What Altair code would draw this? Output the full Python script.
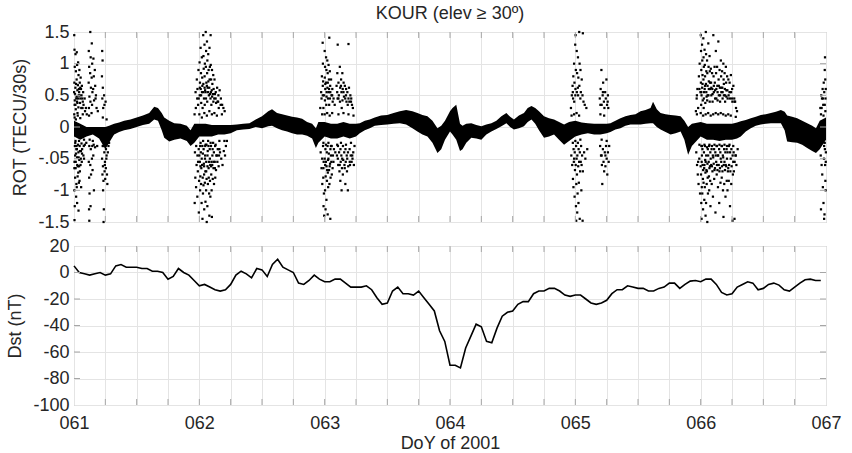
import altair as alt
import pandas as pd

# ---------------- data ----------------
# hourly Dst (nT), starting DoY 061 00:00
dst_values = [5, 0, -1, -2, -1, 0, -2, -1, 5, 6, 4, 4, 4, 3, 3, 1, 1, 0, -5, -3, 3, 0, -2, -6,
              -10, -9, -11, -13, -14, -13, -9, -2, 1, -1, -4, 3, 2, -3, 6, 10, 4, 2, 0, -8, -9, -6, -2, -5,
              -7, -7, -5, -5, -8, -11, -11, -11, -10, -13, -19, -24, -23, -14, -11, -16, -16, -17, -14, -19, -24, -29, -44, -52,
              -70, -70, -72, -57, -48, -39, -41, -52, -53, -42, -33, -30, -29, -24, -22, -22, -16, -14, -14, -12, -12, -14, -17, -18,
              -17, -17, -20, -23, -24, -23, -21, -16, -13, -13, -10, -11, -12, -12, -14, -14, -12, -11, -8, -8, -12, -9, -6.5, -6,
              -7, -5, -5, -9, -15, -17, -16, -11, -9, -7, -8, -13, -12, -9, -8, -9.5, -13, -14, -11, -8, -5.5, -5, -6, -6]

# dense ROT band: (DoY, lower, upper)
rot_band = [(61.00, -0.15, 0.10), (61.05, -0.20, 0.05), (61.10, -0.15, 0.00), (61.15, -0.12, 0.00),
            (61.20, -0.18, 0.00), (61.25, -0.35, 0.00), (61.28, -0.25, 0.02), (61.32, -0.12, 0.05),
            (61.36, -0.08, 0.07), (61.40, -0.05, 0.10), (61.45, -0.03, 0.12), (61.50, 0.00, 0.15),
            (61.55, 0.03, 0.18), (61.60, 0.05, 0.22), (61.64, 0.12, 0.32), (61.67, 0.10, 0.30),
            (61.70, -0.05, 0.22), (61.72, -0.17, 0.15), (61.76, -0.23, 0.10), (61.80, -0.20, 0.06),
            (61.85, -0.18, 0.05), (61.90, -0.22, 0.02), (61.93, -0.30, -0.05), (61.96, -0.25, 0.05),
            (62.00, -0.15, 0.05), (62.05, -0.15, 0.05), (62.10, -0.15, 0.03), (62.15, -0.12, 0.03),
            (62.20, -0.12, 0.03), (62.25, -0.10, 0.03), (62.30, -0.05, 0.04), (62.35, -0.04, 0.05),
            (62.40, -0.03, 0.06), (62.45, 0.00, 0.12), (62.50, -0.02, 0.17), (62.55, 0.01, 0.25),
            (62.58, 0.02, 0.28), (62.62, -0.02, 0.22), (62.66, -0.05, 0.20), (62.70, -0.07, 0.18),
            (62.74, -0.10, 0.16), (62.78, -0.12, 0.15), (62.82, -0.12, 0.13), (62.86, -0.14, 0.08),
            (62.90, -0.18, 0.05), (62.93, -0.33, -0.02), (62.95, -0.25, 0.08), (63.00, -0.15, 0.08),
            (63.05, -0.18, 0.05), (63.10, -0.18, 0.05), (63.15, -0.15, 0.08), (63.20, -0.18, 0.05),
            (63.25, -0.15, 0.05), (63.28, -0.10, 0.06), (63.32, -0.05, 0.10), (63.36, -0.02, 0.12),
            (63.40, 0.02, 0.15), (63.45, 0.03, 0.18), (63.50, 0.04, 0.19), (63.55, 0.05, 0.22),
            (63.60, 0.06, 0.25), (63.65, 0.04, 0.27), (63.70, -0.02, 0.25), (63.74, -0.07, 0.22),
            (63.78, -0.12, 0.19), (63.82, -0.15, 0.17), (63.86, -0.25, 0.10), (63.90, -0.41, -0.02),
            (63.93, -0.35, 0.02), (63.96, -0.20, 0.10), (64.00, -0.07, 0.25), (64.02, -0.12, 0.30),
            (64.05, -0.20, 0.35), (64.08, -0.38, 0.05), (64.10, -0.35, 0.02), (64.13, -0.25, 0.05),
            (64.17, -0.17, 0.06), (64.21, -0.18, 0.03), (64.25, -0.20, 0.01), (64.29, -0.12, 0.04),
            (64.33, -0.07, 0.06), (64.37, -0.03, 0.10), (64.41, 0.01, 0.17), (64.45, 0.06, 0.22),
            (64.48, 0.00, 0.16), (64.51, -0.04, 0.12), (64.55, -0.02, 0.18), (64.59, 0.01, 0.22),
            (64.62, 0.08, 0.30), (64.65, 0.12, 0.33), (64.68, 0.05, 0.30), (64.71, -0.05, 0.25),
            (64.75, -0.17, 0.17), (64.79, -0.15, 0.14), (64.83, -0.12, 0.12), (64.87, -0.20, 0.08),
            (64.91, -0.28, 0.04), (64.95, -0.22, 0.08), (65.00, -0.15, 0.10), (65.05, -0.12, 0.07),
            (65.10, -0.10, 0.06), (65.15, -0.12, 0.05), (65.20, -0.12, 0.05), (65.25, -0.10, 0.05),
            (65.28, -0.08, 0.06), (65.32, -0.04, 0.10), (65.36, -0.02, 0.14), (65.40, 0.02, 0.17),
            (65.44, 0.04, 0.19), (65.48, 0.04, 0.20), (65.52, 0.04, 0.25), (65.56, 0.05, 0.27),
            (65.60, 0.06, 0.30), (65.62, 0.06, 0.40), (65.65, 0.00, 0.28), (65.68, -0.04, 0.22),
            (65.72, -0.08, 0.20), (65.76, -0.12, 0.19), (65.80, -0.10, 0.18), (65.84, -0.07, 0.17),
            (65.87, -0.20, 0.10), (65.90, -0.44, 0.00), (65.93, -0.30, 0.05), (66.00, -0.15, 0.08),
            (66.05, -0.20, 0.05), (66.10, -0.20, 0.05), (66.15, -0.22, 0.05), (66.20, -0.20, 0.05),
            (66.25, -0.20, 0.05), (66.29, -0.18, 0.07), (66.32, -0.15, 0.09), (66.36, -0.07, 0.11),
            (66.40, -0.02, 0.14), (66.44, 0.02, 0.16), (66.48, 0.04, 0.19), (66.52, 0.05, 0.20),
            (66.56, 0.06, 0.22), (66.60, 0.06, 0.24), (66.64, 0.06, 0.27), (66.67, -0.05, 0.24),
            (66.69, -0.23, 0.18), (66.73, -0.24, 0.16), (66.77, -0.25, 0.14), (66.81, -0.28, 0.10),
            (66.85, -0.33, 0.06), (66.89, -0.38, 0.02), (66.92, -0.41, -0.02), (66.95, -0.35, 0.10),
            (67.00, -0.20, 0.15)]

# scattered ROT points during the irregularity bursts: (DoY, ROT)
burst_061 = [(61.002, 1.45), (61.004, 1.22), (61.006, 0.95), (61.003, 0.7), (61.008, 0.52), (61.005, 0.35), (61.002, 0.2),
             (61.007, -0.3), (61.004, -0.55), (61.009, -0.8), (61.003, -1.0), (61.006, -1.25), (61.004, -1.47),
             (61.012, 1.15), (61.015, 0.88), (61.011, 0.62), (61.018, 0.45), (61.014, 0.28), (61.016, -0.42), (61.013, -0.65),
             (61.019, -0.9), (61.017, -1.1), (61.012, -0.22), (61.022, 1.18), (61.025, 0.98), (61.021, 0.75), (61.027, 0.58),
             (61.024, 0.4), (61.028, 0.22), (61.023, -0.35), (61.026, -0.6), (61.029, -0.78), (61.022, -0.95), (61.025, -1.2),
             (61.033, 1.02), (61.036, 0.82), (61.031, 0.66), (61.038, 0.5), (61.035, 0.31), (61.032, -0.28), (61.037, -0.48),
             (61.034, -0.72), (61.039, -0.88), (61.036, -1.32), (61.043, 0.9), (61.046, 0.7), (61.041, 0.55), (61.048, 0.38),
             (61.045, -0.3), (61.042, -0.52), (61.047, -0.7), (61.044, -0.85), (61.053, 0.78), (61.056, 0.6), (61.051, 0.45),
             (61.058, 0.3), (61.055, -0.38), (61.052, -0.6), (61.057, -0.95), (61.063, 0.65), (61.066, 0.45), (61.068, 0.3),
             (61.065, -0.35), (61.062, -0.55), (61.073, 0.55), (61.076, 0.35), (61.078, -0.3), (61.075, -0.45), (61.085, 0.45),
             (61.088, 0.25), (61.086, -0.28), (61.095, 0.3), (61.098, -0.25), (61.102, 0.2),
             (61.118, 1.2), (61.121, 0.95), (61.117, 0.7), (61.123, 0.48), (61.119, 0.3), (61.122, -0.3), (61.118, -0.55),
             (61.121, -0.8), (61.124, -1.05), (61.12, -1.3), (61.122, -1.48), (61.13, 1.5), (61.133, 1.1), (61.129, 0.85),
             (61.135, 0.62), (61.131, 0.4), (61.134, -0.35), (61.13, -0.6), (61.136, -0.75), (61.132, -1.25), (61.142, 1.32),
             (61.145, 1.0), (61.141, 0.78), (61.147, 0.55), (61.144, 0.35), (61.146, -0.3), (61.143, -0.5), (61.148, -0.68),
             (61.155, 1.08), (61.158, 0.8), (61.153, 0.6), (61.16, 0.42), (61.157, -0.28), (61.154, -0.45), (61.159, -1.0),
             (61.166, 0.9), (61.169, 0.65), (61.172, 0.45), (61.168, -0.32), (61.175, 0.5), (61.18, 0.3), (61.185, -0.3),
             (61.19, 0.25),
             (61.225, 1.2), (61.228, 1.05), (61.223, 0.8), (61.23, 0.62), (61.226, 0.45), (61.233, 0.3), (61.229, -0.3),
             (61.224, -0.5), (61.231, -0.62), (61.227, -0.75), (61.235, -0.85), (61.232, -1.0), (61.238, -1.3), (61.236, -1.5),
             (61.24, 0.5), (61.243, 0.35), (61.245, -0.25), (61.242, -0.4), (61.247, -0.55), (61.244, -0.7), (61.249, -0.82),
             (61.246, -0.6), (61.252, 0.4), (61.255, -0.35), (61.258, -0.5), (61.254, -0.65), (61.26, -0.45), (61.263, -0.75),
             (61.266, -0.9), (61.27, -0.4), (61.275, -0.3), (61.28, -0.25)]

burst_062 = [(61.962, 0.2), (61.965, -0.4), (61.968, -0.8), (61.963, -1.2), (61.97, 0.55), (61.972, 0.3), (61.975, -0.3),
             (61.978, -0.6), (61.974, -0.95), (61.98, 0.75), (61.983, 0.45), (61.985, -0.45), (61.988, -0.7), (61.984, -1.1),
             (61.99, 0.35), (61.993, 0.9), (61.995, -0.35), (61.998, -0.85), (61.996, -1.35),
             (62.002, 1.02), (62.005, 0.7), (62.003, 0.5), (62.007, -0.3), (62.004, -0.55), (62.008, -0.78), (62.006, -1.0),
             (62.01, 1.25), (62.013, 0.85), (62.011, 0.6), (62.015, 0.38), (62.012, -0.4), (62.016, -0.65), (62.014, -0.9),
             (62.018, -1.2), (62.02, 1.1), (62.023, 0.78), (62.021, 0.55), (62.026, 0.3), (62.024, -0.3), (62.022, -0.6),
             (62.027, -0.8), (62.025, -1.45), (62.029, -1.05), (62.031, 1.45), (62.033, 1.12), (62.035, 0.92), (62.032, 0.68),
             (62.037, 0.45), (62.034, -0.35), (62.036, -0.58), (62.038, -0.75), (62.033, -0.92), (62.039, -1.3), (62.041, 1.3),
             (62.044, 1.0), (62.042, 0.8), (62.046, 0.58), (62.043, 0.35), (62.047, -0.3), (62.045, -0.5), (62.048, -0.7),
             (62.044, -0.88), (62.049, -1.18), (62.051, 1.5), (62.054, 1.2), (62.052, 0.95), (62.056, 0.7), (62.053, 0.45),
             (62.057, -0.28), (62.055, -0.55), (62.058, -0.82), (62.054, -1.0), (62.059, -1.5), (62.061, 1.35), (62.064, 1.05),
             (62.062, 0.85), (62.066, 0.62), (62.063, 0.4), (62.067, -0.38), (62.065, -0.62), (62.068, -0.9), (62.064, -1.25),
             (62.071, 1.15), (62.074, 0.9), (62.072, 0.72), (62.076, 0.5), (62.073, -0.3), (62.077, -0.55), (62.075, -0.8),
             (62.078, -1.05), (62.081, 1.25), (62.084, 0.95), (62.082, 0.75), (62.086, 0.52), (62.083, -0.35), (62.087, -0.6),
             (62.085, -0.85), (62.088, -1.1), (62.091, 0.98), (62.094, 0.75), (62.092, 0.55), (62.096, 0.35), (62.093, -0.3),
             (62.097, -0.55), (62.095, -0.75), (62.098, -1.0), (62.101, 0.9), (62.104, 0.68), (62.102, 0.48), (62.106, -0.35),
             (62.103, -0.6), (62.107, -0.82), (62.111, 0.82), (62.114, 0.6), (62.112, 0.4), (62.116, -0.4), (62.113, -0.65),
             (62.117, -0.9), (62.121, 0.75), (62.124, 0.52), (62.126, -0.3), (62.123, -0.55), (62.127, -0.8), (62.131, 0.55),
             (62.134, 0.38), (62.136, -0.45), (62.133, -0.68), (62.142, 0.62), (62.145, 0.4), (62.147, -0.35), (62.144, -0.55),
             (62.152, 0.5), (62.155, 0.3), (62.157, -0.45), (62.154, -0.62), (62.162, 0.58), (62.165, -0.4), (62.172, 0.45),
             (62.175, -0.5), (62.182, 0.35), (62.185, -0.6), (62.192, 0.3), (62.195, -0.38), (62.202, 0.25), (62.205, -0.45),
             (62.212, -0.3), (62.22, -0.22), (62.09, 1.45), (62.08, -1.4), (62.1, -1.42)]

burst_063 = [(62.965, 0.3), (62.968, -0.4), (62.972, 0.55), (62.975, -0.65), (62.978, 0.8), (62.981, -0.9), (62.984, 1.33),
             (62.986, 1.0), (62.988, 0.72), (62.985, 0.5), (62.99, 0.3), (62.987, -0.3), (62.992, -0.55), (62.989, -0.8),
             (62.994, -1.05), (62.991, -1.25), (62.996, -1.4), (63.0, 1.2), (63.003, 0.95), (63.001, 0.78), (63.005, 0.6),
             (63.002, 0.42), (63.006, -0.35), (63.004, -0.6), (63.008, -0.78), (63.003, -1.0), (63.007, -1.3), (63.011, 1.1),
             (63.014, 0.9), (63.012, 0.7), (63.016, 0.55), (63.013, 0.35), (63.017, -0.4), (63.015, -0.62), (63.018, -0.85),
             (63.014, -1.15), (63.021, 1.05), (63.024, 0.85), (63.022, 0.62), (63.026, 0.45), (63.023, -0.3), (63.027, -0.52),
             (63.025, -0.72), (63.028, -0.95), (63.024, -1.38), (63.031, 0.98), (63.034, 0.75), (63.032, 0.55), (63.036, 0.35),
             (63.037, 1.41), (63.033, -0.42), (63.035, -0.68), (63.038, -0.9), (63.041, 0.88), (63.044, 0.65), (63.042, 0.45),
             (63.046, -0.35), (63.043, -0.58), (63.047, -0.8), (63.045, -1.45), (63.051, 0.75), (63.054, 0.5), (63.056, -0.3),
             (63.053, -0.55), (63.057, -0.75), (63.061, 0.6), (63.064, 0.4), (63.066, -0.45), (63.063, -0.65), (63.071, 0.45),
             (63.074, -0.35), (63.08, 0.35), (63.085, -0.4),
             (63.095, 0.65), (63.098, -0.45), (63.101, 0.85), (63.104, 1.3), (63.103, 0.45), (63.106, -0.3), (63.108, -0.6),
             (63.11, 0.7), (63.113, 0.5), (63.115, -0.4), (63.118, -0.7), (63.121, 0.95), (63.124, 0.62), (63.122, 0.4),
             (63.126, -0.35), (63.128, -0.55), (63.125, -0.85), (63.131, 0.75), (63.134, 0.55), (63.136, 0.3), (63.133, -0.45),
             (63.138, -0.65), (63.135, -1.0), (63.141, 0.85), (63.144, 0.6), (63.142, 0.42), (63.146, -0.3), (63.148, -0.52),
             (63.145, -0.75), (63.151, 0.7), (63.154, 0.48), (63.156, -0.4), (63.158, -0.6), (63.161, 0.65), (63.164, 0.45),
             (63.166, -0.35), (63.168, -0.55), (63.165, -0.9), (63.171, 0.6), (63.174, 0.4), (63.176, -0.45), (63.178, -0.7),
             (63.181, 0.55), (63.184, 0.35), (63.186, -0.4), (63.188, -0.62), (63.19, 1.31), (63.185, -1.0), (63.194, 0.62),
             (63.197, 0.4), (63.199, -0.35), (63.202, -0.6), (63.205, 0.5), (63.208, -0.45), (63.212, 0.45), (63.215, -0.55),
             (63.218, 0.35), (63.222, -0.5), (63.225, 0.3), (63.228, -0.4), (63.233, -0.6), (63.238, -0.3)]

burst_065 = [(64.965, 0.3), (64.968, -0.45), (64.972, 0.5), (64.975, -0.6), (64.978, 0.65), (64.981, -0.82), (64.984, 0.8),
             (64.982, 0.45), (64.986, -0.35), (64.988, -0.55), (64.985, -0.95), (64.99, 1.0), (64.993, 0.7), (64.991, 0.4),
             (64.995, -0.4), (64.997, -0.68), (64.994, -1.1), (64.999, 1.3), (65.002, 1.45), (65.004, 0.9), (65.001, 0.6),
             (65.006, -0.3), (65.003, -0.6), (65.008, -0.9), (65.005, -1.25), (65.007, -1.48), (65.011, 1.2), (65.014, 0.85),
             (65.012, 0.55), (65.016, -0.45), (65.013, -0.75), (65.018, -1.05), (65.015, -1.35), (65.021, 1.1), (65.024, 0.78),
             (65.022, 0.5), (65.026, -0.35), (65.023, -0.62), (65.028, -0.88), (65.025, -1.2), (65.031, 1.5), (65.034, 1.0),
             (65.032, 0.65), (65.036, -0.4), (65.038, -0.7), (65.035, -1.45), (65.041, 0.9), (65.044, 0.55), (65.046, -0.3),
             (65.043, -0.55), (65.048, -1.0), (65.051, 0.75), (65.054, -0.45), (65.057, 0.5), (65.06, -0.7), (65.065, 0.4),
             (65.07, -0.4), (65.075, 0.35), (65.08, -0.5), (65.088, 0.3), (65.095, -0.35), (65.06, 1.48), (65.058, -1.48),
             (65.195, 0.45), (65.198, -0.3), (65.202, 0.6), (65.205, -0.45), (65.208, 0.9), (65.21, 0.35), (65.212, -0.6),
             (65.215, -0.9), (65.218, 0.5), (65.22, -0.35), (65.222, 0.7), (65.225, -0.55), (65.228, 0.4), (65.23, -0.7),
             (65.232, 0.3), (65.235, -0.4), (65.238, 0.55), (65.24, -0.62), (65.243, 0.45), (65.245, -0.3), (65.248, 0.75),
             (65.25, -0.5), (65.253, 0.35), (65.255, -0.75), (65.258, 0.4), (65.26, -0.4), (65.263, 0.3), (65.266, -0.55),
             (65.27, -0.3)]

burst_066 = [(65.962, 0.25), (65.965, -0.4), (65.968, 0.45), (65.971, -0.6), (65.974, 0.6), (65.977, -0.75), (65.98, 0.3),
             (65.983, -0.9), (65.986, 0.8), (65.989, -0.5), (65.992, 1.0), (65.995, -1.05), (65.998, 0.55),
             (66.001, 1.45), (66.003, 1.2), (66.005, 0.9), (66.002, 0.7), (66.007, 0.5), (66.004, 0.35), (66.006, -0.3),
             (66.008, -0.55), (66.003, -0.75), (66.009, -0.95), (66.005, -1.2), (66.007, -1.45), (66.011, 1.3), (66.013, 1.05),
             (66.015, 0.82), (66.012, 0.62), (66.017, 0.42), (66.014, -0.35), (66.016, -0.6), (66.018, -0.82), (66.013, -1.05),
             (66.019, -1.3), (66.021, 1.4), (66.023, 1.1), (66.025, 0.95), (66.022, 0.75), (66.027, 0.55), (66.024, 0.3),
             (66.026, -0.4), (66.028, -0.65), (66.023, -0.88), (66.029, -1.15), (66.031, 1.22), (66.033, 0.98), (66.035, 0.8),
             (66.032, 0.6), (66.037, 0.38), (66.034, -0.3), (66.036, -0.52), (66.038, -0.72), (66.033, -0.95), (66.039, -1.4),
             (66.041, 1.5), (66.043, 1.15), (66.045, 0.88), (66.042, 0.68), (66.047, 0.48), (66.044, -0.45), (66.046, -0.68),
             (66.048, -0.9), (66.043, -1.2), (66.051, 1.05), (66.053, 0.85), (66.055, 0.65), (66.052, 0.42), (66.057, -0.35),
             (66.054, -0.58), (66.056, -0.8), (66.058, -1.05), (66.053, -1.5), (66.061, 1.32), (66.063, 0.95), (66.065, 0.72),
             (66.062, 0.5), (66.067, -0.3), (66.064, -0.55), (66.066, -0.78), (66.068, -1.0), (66.071, 1.12), (66.073, 0.88),
             (66.075, 0.6), (66.072, 0.4), (66.077, -0.4), (66.074, -0.62), (66.076, -0.85), (66.078, -1.25), (66.081, 0.92),
             (66.083, 0.7), (66.085, 0.5), (66.087, -0.35), (66.084, -0.6), (66.088, -0.9), (66.091, 0.85), (66.093, 0.6),
             (66.095, 0.4), (66.097, -0.45), (66.094, -0.7), (66.098, -1.1), (66.101, 1.45), (66.103, 0.8), (66.105, 0.55),
             (66.107, -0.35), (66.104, -0.58), (66.108, -0.82), (66.111, 0.95), (66.113, 0.7), (66.115, 0.45), (66.117, -0.4),
             (66.114, -0.65), (66.118, -1.35), (66.121, 1.2), (66.123, 0.85), (66.125, 0.6), (66.127, -0.3), (66.124, -0.55),
             (66.128, -0.75), (66.131, 0.95), (66.133, 0.65), (66.135, 0.42), (66.137, -0.45), (66.134, -0.68), (66.138, -0.95),
             (66.141, 1.35), (66.143, 0.75), (66.145, 0.5), (66.147, -0.35), (66.144, -0.6), (66.148, -1.2), (66.151, 0.9),
             (66.153, 0.62), (66.155, 0.4), (66.157, -0.4), (66.154, -0.65), (66.158, -0.88), (66.161, 1.05), (66.163, 0.8),
             (66.165, 0.55), (66.167, -0.3), (66.164, -0.55), (66.168, -0.8), (66.171, 0.88), (66.173, 0.62), (66.175, 0.45),
             (66.177, -0.45), (66.174, -0.7), (66.178, -1.0), (66.181, 1.0), (66.183, 0.75), (66.185, 0.5), (66.187, -0.35),
             (66.184, -0.6), (66.188, -0.9), (66.182, -1.42), (66.191, 0.85), (66.193, 0.6), (66.195, 0.4), (66.197, -0.4),
             (66.194, -0.68), (66.198, -1.1), (66.201, 0.95), (66.203, 0.7), (66.205, 0.48), (66.207, -0.35), (66.204, -0.62),
             (66.208, -0.85), (66.211, 0.8), (66.213, 0.58), (66.215, -0.4), (66.217, -0.7), (66.214, -1.0), (66.221, 0.75),
             (66.223, 0.5), (66.225, -0.3), (66.227, -0.6), (66.224, -0.85), (66.231, 0.7), (66.233, 0.45), (66.235, -0.4),
             (66.237, -0.7), (66.234, -1.25), (66.241, 0.82), (66.243, 0.55), (66.245, -0.35), (66.247, -0.62), (66.244, -0.9),
             (66.251, 0.6), (66.253, 0.4), (66.255, -0.45), (66.257, -0.75), (66.254, -1.48), (66.261, 0.65), (66.263, -0.4),
             (66.265, -0.7), (66.268, 0.45), (66.271, -0.55), (66.275, 0.4), (66.278, -0.45), (66.282, 0.3), (66.285, -0.6),
             (66.29, 0.25), (66.295, -0.35), (66.27, -1.45)]

burst_067 = [(66.955, 0.3), (66.958, -0.45), (66.962, 0.5), (66.965, -0.6), (66.968, 0.45), (66.97, -0.75), (66.973, 0.6),
             (66.975, -0.95), (66.978, 0.35), (66.98, -1.2), (66.982, 0.7), (66.984, -0.5), (66.986, 0.55), (66.988, -1.38),
             (66.99, 0.9), (66.991, -0.35), (66.992, 1.1), (66.993, -0.6), (66.994, 0.75), (66.995, -0.85), (66.996, 0.45),
             (66.997, -1.0), (66.998, 0.6), (66.999, -0.4), (66.985, -1.45), (66.96, -1.3)]

# points close to the band inside the bursts (dense cores)
burst_cores = [(61.005, 0.15), (61.01, -0.25), (61.015, 0.12), (61.02, -0.3), (61.03, 0.18), (61.04, -0.22), (61.05, 0.14),
               (61.06, -0.26), (61.07, 0.2), (61.08, -0.2), (61.12, 0.18), (61.125, -0.2), (61.14, 0.22), (61.15, -0.22),
               (61.23, 0.15), (61.235, -0.3), (61.25, -0.28), (61.26, 0.12),
               (62.0, 0.2), (62.01, -0.25), (62.02, 0.15), (62.03, -0.22), (62.04, 0.22), (62.05, -0.28), (62.06, 0.18),
               (62.07, -0.22), (62.08, 0.25), (62.09, -0.25), (62.1, 0.2), (62.11, -0.25), (62.12, 0.22), (62.13, -0.28),
               (62.14, 0.18), (62.16, -0.22), (62.18, 0.2), (62.2, -0.22),
               (62.98, 0.2), (62.99, -0.25), (63.0, 0.2), (63.01, -0.28), (63.02, 0.22), (63.03, -0.25), (63.04, 0.18),
               (63.05, -0.3), (63.06, 0.22), (63.1, -0.28), (63.11, 0.2), (63.13, -0.25), (63.15, 0.22), (63.17, -0.28),
               (63.19, 0.2), (63.21, -0.25), (63.23, 0.18),
               (64.97, 0.18), (64.98, -0.25), (64.99, 0.2), (65.0, -0.22), (65.01, 0.22), (65.02, -0.25), (65.03, 0.18),
               (65.04, -0.2), (65.2, 0.2), (65.21, -0.2), (65.23, 0.18), (65.25, -0.22),
               (65.97, 0.2), (65.99, -0.28), (66.0, 0.22), (66.01, -0.3), (66.02, 0.18), (66.03, -0.28), (66.04, 0.2),
               (66.05, -0.32), (66.06, 0.22), (66.07, -0.28), (66.08, 0.18), (66.09, -0.3), (66.1, 0.2), (66.11, -0.28),
               (66.12, 0.22), (66.13, -0.3), (66.14, 0.2), (66.15, -0.28), (66.16, 0.22), (66.17, -0.3), (66.18, 0.2),
               (66.19, -0.28), (66.2, 0.18), (66.21, -0.3), (66.22, 0.2), (66.23, -0.28), (66.24, 0.18), (66.26, -0.3),
               (66.28, 0.16),
               (66.96, 0.2), (66.97, -0.25), (66.98, 0.18), (66.99, -0.25), (66.995, 0.25)]

# extra points filling the middle of the bursts
burst_fill = [(61.001, 0.55), (61.003, -0.65), (61.006, 0.42), (61.009, -0.45), (61.011, 0.35), (61.014, -0.55),
              (61.017, 0.68), (61.019, -0.35), (61.021, 0.48), (61.024, -0.48), (61.027, 0.38), (61.03, -0.62),
              (61.033, 0.45), (61.035, -0.4), (61.039, 0.6), (61.041, -0.62), (61.044, 0.5), (61.047, -0.38),
              (61.05, 0.62), (61.054, -0.5), (61.06, 0.5), (61.064, -0.42), (61.07, 0.4), (61.08, -0.5),
              (61.985, 0.6), (61.99, -0.55), (61.995, 0.45), (62.0, -0.45), (62.004, 0.62), (62.009, -0.62),
              (62.014, 0.5), (62.019, -0.5), (62.024, 0.65), (62.028, -0.42), (62.033, 0.55), (62.038, -0.62),
              (62.042, 0.62), (62.046, -0.45), (62.05, 0.55), (62.055, -0.7), (62.06, 0.65), (62.065, -0.45),
              (62.069, 0.55), (62.074, -0.65), (62.079, 0.62), (62.084, -0.5), (62.089, 0.45), (62.094, -0.62),
              (62.099, 0.58), (62.104, -0.45), (62.109, 0.52), (62.114, -0.55), (62.119, 0.45), (62.124, -0.65),
              (62.13, 0.45), (62.14, -0.45), (62.15, 0.4), (62.16, -0.35), (62.17, 0.35),
              (62.975, 0.45), (62.98, -0.5), (62.985, 0.65), (62.99, -0.65), (62.995, 0.5), (63.0, -0.5),
              (63.005, 0.68), (63.01, -0.55), (63.015, 0.48), (63.02, -0.68), (63.025, 0.7), (63.03, -0.5),
              (63.035, 0.6), (63.04, -0.62), (63.045, 0.55), (63.05, -0.45), (63.06, 0.5), (63.07, -0.55),
              (63.1, 0.55), (63.105, -0.5), (63.11, 0.45), (63.12, -0.6), (63.13, 0.65), (63.14, -0.5),
              (63.15, 0.55), (63.16, -0.65), (63.17, 0.5), (63.18, -0.5), (63.19, 0.45), (63.2, -0.55),
              (63.21, 0.4), (63.22, -0.45),
              (64.98, 0.55), (64.99, -0.5), (65.0, 0.5), (65.01, -0.5), (65.02, 0.62), (65.03, -0.55),
              (65.04, 0.45), (65.05, -0.6), (65.2, 0.35), (65.21, -0.45), (65.22, 0.55), (65.24, -0.45), (65.26, 0.5),
              (65.97, 0.5), (65.98, -0.55), (65.99, 0.6), (66.0, -0.62), (66.005, 0.55), (66.01, -0.45),
              (66.015, 0.68), (66.02, -0.68), (66.025, 0.45), (66.03, -0.6), (66.035, 0.65), (66.04, -0.55),
              (66.045, 0.55), (66.05, -0.7), (66.055, 0.5), (66.06, -0.45), (66.065, 0.6), (66.07, -0.65),
              (66.075, 0.7), (66.08, -0.5), (66.085, 0.62), (66.09, -0.62), (66.095, 0.52), (66.1, -0.48),
              (66.105, 0.65), (66.11, -0.68), (66.115, 0.58), (66.12, -0.45), (66.125, 0.45), (66.13, -0.6),
              (66.135, 0.55), (66.14, -0.45), (66.145, 0.65), (66.15, -0.7), (66.155, 0.5), (66.16, -0.5),
              (66.165, 0.62), (66.17, -0.62), (66.175, 0.55), (66.18, -0.48), (66.185, 0.68), (66.19, -0.55),
              (66.195, 0.5), (66.2, -0.6), (66.205, 0.58), (66.21, -0.5), (66.215, 0.45), (66.22, -0.65),
              (66.23, 0.55), (66.24, -0.5), (66.25, 0.45), (66.26, -0.55), (66.27, 0.4), (66.28, -0.45),
              (66.965, 0.3), (66.975, 0.45), (66.985, -0.3), (66.99, 0.35), (66.998, -0.55)]

day_ticks = [61, 61.25, 61.5, 61.75, 62, 62.25, 62.5, 62.75, 63, 63.25, 63.5, 63.75, 64,
             64.25, 64.5, 64.75, 65, 65.25, 65.5, 65.75, 66, 66.25, 66.5, 66.75, 67]
rot_tick_values = [-1.5, -1, -0.5, 0, 0.5, 1, 1.5]
rot_tick_labels = ["-1.5", "-1", "-.05", "0", "0.5", "1", "1.5"]
dst_tick_values = [-100, -80, -60, -40, -20, 0, 20]

# ---------------- tables ----------------
dst_df = pd.DataFrame({"doy": [61 + i / 24 for i in range(len(dst_values))], "dst": dst_values})
band_df = pd.DataFrame(rot_band, columns=["doy", "lo", "hi"])
pts_df = pd.DataFrame(burst_061 + burst_062 + burst_063 + burst_065 + burst_066 + burst_067
                      + burst_cores + burst_fill, columns=["doy", "rot"])
xt_df = pd.DataFrame({"doy": day_ticks[1:-1]})
yt_rot_df = pd.DataFrame({"v": rot_tick_values[1:-1]})
yt_dst_df = pd.DataFrame({"v": dst_tick_values[1:-1]})

# ---------------- styles ----------------
FONT = "Liberation Sans"
TXT = "#262626"
FRAME = "#a6a6a6"
W, H1, H2 = 752, 190, 159
TL = 6

xs = alt.Scale(domain=[61, 67], nice=False, zero=False)
ys_rot = alt.Scale(domain=[-1.5, 1.5], nice=False, zero=False)
ys_dst = alt.Scale(domain=[-100, 20], nice=False, zero=False)

rot_label_expr = " : ".join(
    f"datum.value == {v} ? '{l}'" for v, l in zip(rot_tick_values, rot_tick_labels)) + " : ''"

x_axis_top = alt.Axis(values=day_ticks, labels=False, title=None, grid=True)
x_axis_bot = alt.Axis(values=day_ticks, title="DoY of 2001", grid=True, labelOverlap=False,
                      labelFlush=False, labelPadding=9, titlePadding=2,
                      labelExpr="datum.value % 1 == 0 ? '0' + datum.value : ''")
y_axis_rot = alt.Axis(values=rot_tick_values, title="ROT (TECU/30s)", labelExpr=rot_label_expr,
                      grid=True, labelPadding=5, titlePadding=8)
y_axis_dst = alt.Axis(values=dst_tick_values, title="Dst (nT)", labelExpr="'' + datum.value",
                      grid=True, labelPadding=5, titlePadding=8)


def tick_layers(h, ys, ydf, xaxis, yaxis):
    top = alt.Chart(xt_df).mark_rule(color=FRAME).encode(
        x=alt.X("doy:Q", scale=xs, axis=xaxis), y=alt.value(0), y2=alt.value(TL))
    bot = alt.Chart(xt_df).mark_rule(color=FRAME).encode(
        x=alt.X("doy:Q", scale=xs, axis=xaxis), y=alt.value(h), y2=alt.value(h - TL))
    left = alt.Chart(ydf).mark_rule(color=FRAME).encode(
        y=alt.Y("v:Q", scale=ys, axis=yaxis), x=alt.value(0), x2=alt.value(TL))
    right = alt.Chart(ydf).mark_rule(color=FRAME).encode(
        y=alt.Y("v:Q", scale=ys, axis=yaxis), x=alt.value(W), x2=alt.value(W - TL))
    return [top, bot, left, right]


band = alt.Chart(band_df).mark_area(color="black", opacity=1).encode(
    x=alt.X("doy:Q", scale=xs, axis=x_axis_top),
    y=alt.Y("lo:Q", scale=ys_rot, axis=y_axis_rot),
    y2="hi:Q")
pts = alt.Chart(pts_df).mark_square(size=5, color="black", opacity=1).encode(
    x=alt.X("doy:Q", scale=xs, axis=x_axis_top),
    y=alt.Y("rot:Q", scale=ys_rot, axis=y_axis_rot))

top = alt.layer(band, pts, *tick_layers(H1, ys_rot, yt_rot_df, x_axis_top, y_axis_rot)).properties(
    width=W, height=H1,
    title=alt.TitleParams("KOUR (elev \u2265 30\u00ba)", font=FONT, fontSize=18, fontWeight="normal",
                          color=TXT, anchor="middle", frame="group", offset=0))

dst_line = alt.Chart(dst_df).mark_line(color="black", strokeWidth=1.6).encode(
    x=alt.X("doy:Q", scale=xs, axis=x_axis_bot),
    y=alt.Y("dst:Q", scale=ys_dst, axis=y_axis_dst))

bottom = alt.layer(dst_line, *tick_layers(H2, ys_dst, yt_dst_df, x_axis_bot, y_axis_dst)).properties(
    width=W, height=H2)

chart = alt.vconcat(top, bottom, spacing=4).properties(
    padding={"left": 6, "top": 4, "right": 0, "bottom": 0},
    background="white",
).configure_view(stroke=FRAME, strokeWidth=1).configure_axis(
    labelFont=FONT, labelFontSize=18, labelColor=TXT,
    titleFont=FONT, titleFontSize=18, titleFontWeight="normal", titleColor=TXT,
    gridColor="#e4e4e4", gridOpacity=1, gridWidth=1,
    domain=False, ticks=False,
)

chart.save("out.html", embed_options={"renderer": "svg", "actions": False})
